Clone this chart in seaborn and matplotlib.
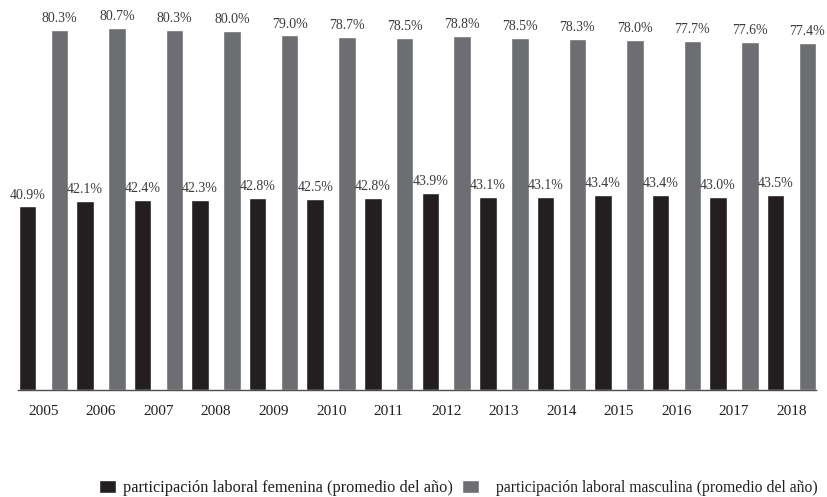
import matplotlib
matplotlib.use("Agg")
import matplotlib.pyplot as plt
import seaborn as sns
import pandas as pd

years = ["2005", "2006", "2007", "2008", "2009", "2010", "2011",
         "2012", "2013", "2014", "2015", "2016", "2017", "2018"]
femenina = [40.9, 42.1, 42.4, 42.3, 42.8, 42.5, 42.8, 43.9, 43.1, 43.1, 43.4, 43.4, 43.0, 43.5]
masculina = [80.3, 80.7, 80.3, 80.0, 79.0, 78.7, 78.5, 78.8, 78.5, 78.3, 78.0, 77.7, 77.6, 77.4]
series = ["participación laboral femenina (promedio del año)",
          "participación laboral masculina (promedio del año)"]
colors = ["#231f20", "#6d6e71"]

df = pd.DataFrame({
    "año": years * 2,
    "valor": femenina + masculina,
    "serie": [series[0]] * len(years) + [series[1]] * len(years),
})

sns.set_theme(style="white")
plt.rcParams["font.family"] = ["Liberation Serif", "DejaVu Serif"]

fig = plt.figure(figsize=(8.27, 4.97), dpi=100)
ax = fig.add_axes([18 / 827, 107 / 497, (816 - 18) / 827, 390 / 497])

sns.barplot(data=df, x="año", y="valor", hue="serie", palette=colors,
            width=1.11, gap=0.45, saturation=1, ax=ax, legend=True)

for cont in ax.containers:
    ax.bar_label(cont, fmt="{:.1f}%", padding=3.5, fontsize=10, color="#3a3a3a")

ax.set_xlim(-0.443, 13.426)
ax.set_ylim(0, 86.9)
ax.set_xlabel("")
ax.set_ylabel("")
ax.set_yticks([])
ax.tick_params(axis="x", length=0, pad=11, labelsize=11, labelcolor="#231f20")
for s in ["top", "left", "right"]:
    ax.spines[s].set_visible(False)
ax.spines["bottom"].set_color("#4d4d4d")
ax.spines["bottom"].set_linewidth(1.0)

handles, labels = ax.get_legend_handles_labels()
ax.get_legend().remove()

ly = 1 - 488 / 497
fig.legend(handles[:1], labels[:1], loc="center left", bbox_to_anchor=(99 / 827, ly),
           frameon=False, borderpad=0, borderaxespad=0, handlelength=1.05,
           handleheight=0.85, handletextpad=0.4, fontsize=11.8, labelcolor="#231f20")
fig.legend(handles[1:], labels[1:], loc="center left", bbox_to_anchor=(462 / 827, ly),
           frameon=False, borderpad=0, borderaxespad=0, handlelength=1.1,
           handleheight=0.9, handletextpad=1.05, fontsize=11.3, labelcolor="#231f20")

fig.savefig("out.png", dpi=100)
